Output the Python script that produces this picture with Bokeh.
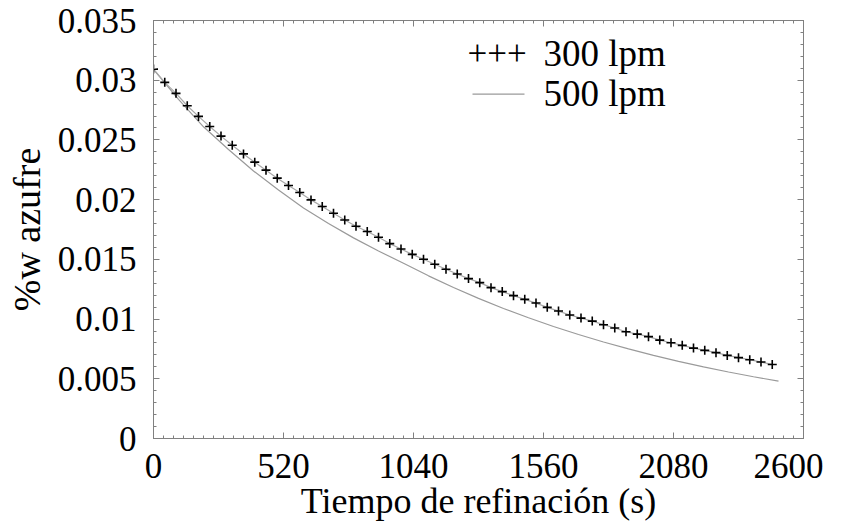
from bokeh.plotting import figure
from bokeh.models import (Range1d, FixedTicker, NumeralTickFormatter, LinearAxis,
                          Label, Arrow, CustomJSTickFormatter)
from bokeh.embed import file_html
from bokeh.resources import INLINE

# ---------------- data ----------------
time_300 = [0, 45, 90, 135, 180, 225, 270, 315, 360, 405, 450, 495, 540, 585,
            630, 675, 720, 765, 810, 855, 900, 945, 990, 1035, 1080, 1125, 1170,
            1215, 1260, 1305, 1350, 1395, 1440, 1485, 1530, 1575, 1620, 1665,
            1710, 1755, 1800, 1845, 1890, 1935, 1980, 2025, 2070, 2115, 2160,
            2205, 2250, 2295, 2340, 2385, 2430, 2475]
sulfur_300 = [0.03093, 0.02982, 0.02890, 0.02786, 0.02697, 0.02613, 0.02532,
              0.02456, 0.02383, 0.02314, 0.02247, 0.02180, 0.02119, 0.02060,
              0.01998, 0.01942, 0.01886, 0.01830, 0.01777, 0.01733, 0.01685,
              0.01632, 0.01587, 0.01542, 0.01501, 0.01459, 0.01417, 0.01377,
              0.01339, 0.01305, 0.01263, 0.01230, 0.01196, 0.01165, 0.01134,
              0.01098, 0.01067, 0.01034, 0.01008, 0.00983, 0.00953, 0.00925,
              0.00894, 0.00874, 0.00853, 0.00824, 0.00802, 0.00780, 0.00757,
              0.00738, 0.00719, 0.00696, 0.00677, 0.00660, 0.00640, 0.00620]

time_500 = [0, 100, 200, 300, 400, 500, 600, 700, 800, 900, 1000, 1100, 1200,
            1300, 1400, 1500, 1600, 1700, 1800, 1900, 2000, 2100, 2200, 2300,
            2400, 2500]
sulfur_500 = [0.0309, 0.0284, 0.0261, 0.0242, 0.0224, 0.0208, 0.0193, 0.0180,
              0.0168, 0.0157, 0.01467, 0.01362, 0.01264, 0.01173, 0.01089,
              0.01011, 0.00938, 0.00871, 0.00808, 0.00750, 0.00696, 0.00646,
              0.00600, 0.00557, 0.00517, 0.00480]

x_ticks = [0, 520, 1040, 1560, 2080, 2600]
y_ticks = [0, 0.005, 0.01, 0.015, 0.02, 0.025, 0.03, 0.035]
label_300 = "300 lpm"
label_500 = "500 lpm"
x_title = "Tiempo de refinación (s)"
y_title = "%w azufre"

# ---------------- figure ----------------
FONT = "'Liberation Serif'"
AX = "#808080"

p = figure(width=823, height=528, output_backend="svg", toolbar_location=None,
           x_range=Range1d(0, 2600), y_range=Range1d(0, 0.035),
           min_border_left=153, min_border_right=20, min_border_top=20,
           min_border_bottom=90)
p.xgrid.visible = False
p.ygrid.visible = False
p.outline_line_color = AX
p.background_fill_color = "white"
p.border_fill_color = "white"

x_minor = [i * 40 for i in range(66)]
y_minor = [i * 0.001 for i in range(36)]
xt = FixedTicker(ticks=x_ticks, minor_ticks=x_minor)
yt = FixedTicker(ticks=y_ticks, minor_ticks=y_minor)

def style(ax, labels=True):
    ax.axis_line_color = AX
    ax.major_tick_line_color = AX
    ax.minor_tick_line_color = AX
    ax.major_tick_in = 6
    ax.major_tick_out = 0
    ax.minor_tick_in = 3
    ax.minor_tick_out = 0
    if labels:
        ax.major_label_text_font = FONT
        ax.major_label_text_font_size = "35px"
        ax.major_label_text_color = "black"
        ax.axis_label_text_font = FONT
        ax.axis_label_text_font_style = "normal"
        ax.axis_label_text_color = "black"
    else:
        ax.formatter = CustomJSTickFormatter(code="return ''")
        ax.major_label_standoff = 0

p.xaxis.ticker = xt
p.yaxis.ticker = yt
p.yaxis.formatter = NumeralTickFormatter(format="0.[000]")
style(p.xaxis[0])
style(p.yaxis[0])
p.xaxis.axis_label = x_title
p.yaxis.axis_label = y_title
p.xaxis.axis_label_text_font_size = "36px"
p.yaxis.axis_label_text_font_size = "38px"
p.xaxis.major_label_standoff = 15
p.yaxis.major_label_standoff = 17
p.xaxis.axis_label_standoff = 0
p.yaxis.axis_label_standoff = 7

top_ax = LinearAxis(ticker=xt)
right_ax = LinearAxis(ticker=yt)
style(top_ax, labels=False)
style(right_ax, labels=False)
p.add_layout(top_ax, "above")
p.add_layout(right_ax, "right")

# series
p.line(time_500, sulfur_500, line_color="#9a9a9a", line_width=1.2)
p.line(time_300, sulfur_300, line_color="#a8a8a8", line_width=1.2)
p.scatter(time_300, sulfur_300, marker="cross", size=9, line_color="black",
          line_width=1.6)

# legend (drawn as annotations to mimic "+++")
p.add_layout(Label(x=1256, y=0.03232, text="+++", text_font=FONT,
                   text_font_size="35px", text_color="black",
                   text_baseline="alphabetic"))
p.add_layout(Label(x=1560, y=0.03227, text=label_300, text_font=FONT,
                   text_font_size="37px", text_color="black",
                   text_baseline="alphabetic"))
p.add_layout(Arrow(end=None, x_start=1276, y_start=0.02884, x_end=1484,
                   y_end=0.02884, line_color="#9a9a9a", line_width=1.2))
p.add_layout(Label(x=1560, y=0.02892, text=label_500, text_font=FONT,
                   text_font_size="37px", text_color="black",
                   text_baseline="alphabetic"))

open("out.html", "w").write(file_html(p, INLINE))
